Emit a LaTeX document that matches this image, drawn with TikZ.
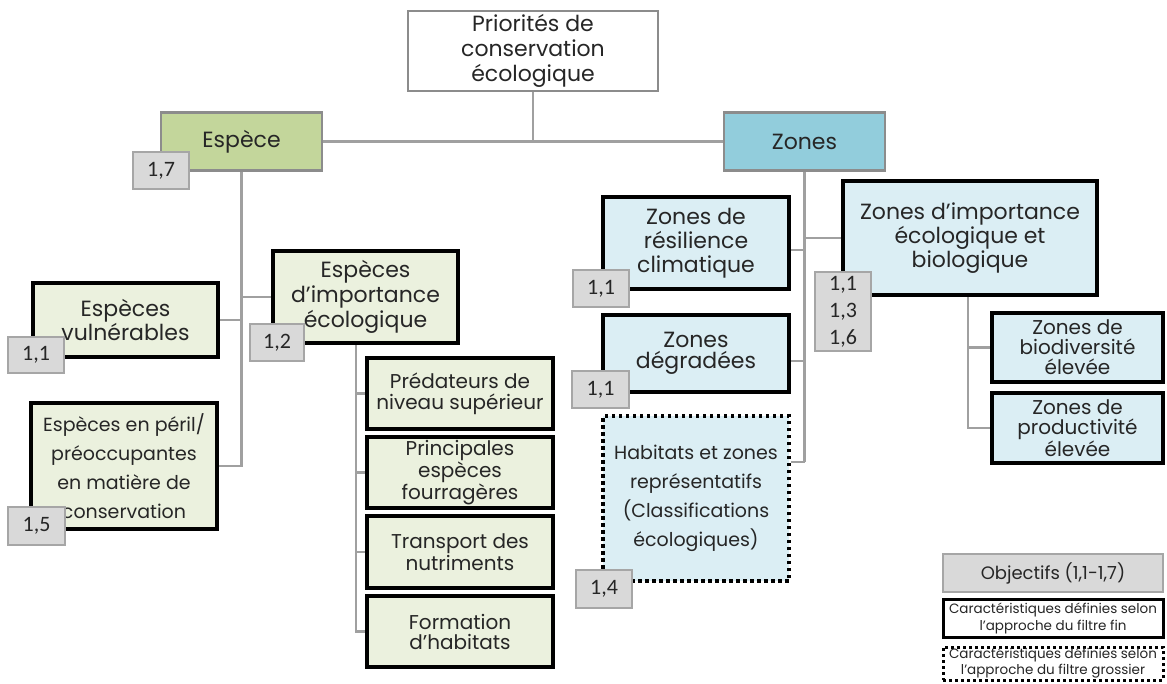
\documentclass[tikz,border=0pt]{standalone}
\usepackage{fontspec}
\setmainfont{Poppins}
\newfontfamily\numfont{Carlito}
\usetikzlibrary{calc}

\definecolor{espfill}{HTML}{C3D69B}
\definecolor{zonfill}{HTML}{92CDDC}
\definecolor{lgreen}{HTML}{EBF1DE}
\definecolor{lblue}{HTML}{DBEEF4}
\definecolor{badgefill}{HTML}{D9D9D9}
\definecolor{badgeline}{HTML}{A6A6A6}
\definecolor{edgegray}{HTML}{8C8C8C}
\definecolor{linkgray}{HTML}{A0A0A0}
\definecolor{txt}{HTML}{262626}

\newcommand{\fs}[2]{\fontsize{#1}{#2}\selectfont}

\tikzset{
  base/.style={align=center, inner sep=0pt, text=txt},
  topbox/.style={base, draw=edgegray, line width=2.5pt},
  finebox/.style={base, draw=black, line width=4pt},
  coarsebox/.style={base, draw=black, line width=3.5pt, dash pattern=on 3.5pt off 3.5pt},
  badge/.style={align=center, inner sep=0pt, draw=badgeline, fill=badgefill,
    line width=2pt, text=black!85, font=\numfont\fs{22}{27}},
  link/.style={draw=linkgray, line width=2.5pt},
}

\begin{document}
\begin{tikzpicture}[x=1pt, y=-1pt]
\useasboundingbox (0,0) rectangle (1167,683);

% ---------- boxes ----------
\node[topbox, fill=white, minimum width=250pt, minimum height=80pt, font=\fs{22}{25}]
  (root) at (533,51) {Priorités de\\conservation\\écologique};
\node[topbox, fill=espfill, minimum width=161pt, minimum height=58pt, font=\fs{22}{25}]
  (esp) at (241.5,141.5) {Espèce};
\node[topbox, fill=zonfill, minimum width=161pt, minimum height=58pt, font=\fs{22}{25}]
  (zon) at (804.5,141.5) {Zones};

% species branch
\node[finebox, fill=lgreen, minimum width=185pt, minimum height=74pt, font=\fs{22}{24}]
  (vuln) at (125.5,320) {Espèces\\vulnérables};
\node[finebox, fill=lgreen, minimum width=185pt, minimum height=92pt, font=\fs{22}{25}]
  (imp) at (365.5,297) {Espèces\\d’importance\\écologique};
\node[finebox, fill=lgreen, minimum width=186pt, minimum height=126pt, font=\fs{19}{29}]
  (peril) at (124,466) {Espèces en péril/\\préoccupantes\\en matière de\\conservation};
\node[finebox, fill=lgreen, minimum width=186pt, minimum height=71pt, font=\fs{20}{21}]
  (pred) at (460,393.5) {Prédateurs de\\niveau supérieur};
\node[finebox, fill=lgreen, minimum width=186pt, minimum height=71pt, font=\fs{20}{20}]
  (four) at (460,472.5) {Principales\\espèces\\fourragères};
\node[finebox, fill=lgreen, minimum width=186pt, minimum height=72pt, font=\fs{20}{20}]
  (nutr) at (460,552) {Transport des\\nutriments};
\node[finebox, fill=lgreen, minimum width=186pt, minimum height=71pt, font=\fs{20}{20}]
  (habf) at (460,631.5) {Formation\\d'habitats};

% zones branch
\node[finebox, fill=lblue, minimum width=186pt, minimum height=92pt, font=\fs{22}{24}]
  (res) at (696,243) {Zones de\\résilience\\climatique};
\node[finebox, fill=lblue, minimum width=186pt, minimum height=77pt, font=\fs{22}{21}]
  (deg) at (696,353.5) {Zones\\dégradées};
\node[coarsebox, fill=lblue, minimum width=186pt, minimum height=165pt, font=\fs{19}{29}]
  (hab) at (696,498.5) {Habitats et zones\\représentatifs\\(Classifications\\écologiques)};
\node[finebox, fill=lblue, minimum width=254pt, minimum height=114pt, font=\fs{22}{24}]
  (zieb) at (970,238) {Zones d'importance\\écologique et\\biologique};
\node[finebox, fill=lblue, minimum width=171pt, minimum height=69pt, font=\fs{20}{20}]
  (biod) at (1077.5,347.5) {Zones de\\biodiversité\\élevée};
\node[finebox, fill=lblue, minimum width=171pt, minimum height=70pt, font=\fs{20}{20}]
  (prod) at (1077.5,428) {Zones de\\productivité\\élevée};

% ---------- connectors ----------
\path[link] (root.south) -- (root.south |- esp.east);
\path[link] (esp.east) -- (zon.west);
\path[link] (esp.south) |- (peril.east);
\path[link] (vuln.east) -- (vuln.east -| esp.south);
\path[link] (imp.west) -- (imp.west -| esp.south);
\coordinate (impdrop) at ([xshift=-9.5pt]imp.south);
\path[link] (impdrop) |- (habf.west);
\path[link] (pred.west) -- (pred.west -| impdrop);
\path[link] (four.west) -- (four.west -| impdrop);
\path[link] (nutr.west) -- (nutr.west -| impdrop);
\coordinate (habjoin) at ([yshift=36.5pt]hab.east);
\path[link] (zon.south) -- (zon.south |- habjoin);
\path[link] (habjoin) -- (habjoin -| zon.south);
\path[link] ([yshift=-7pt]res.east) -- ([yshift=-7pt]res.east -| zon.south);
\path[link] ([yshift=-7.5pt]deg.east) -- ([yshift=-7.5pt]deg.east -| zon.south);
\path[link] (zieb.west) -- (zieb.west -| zon.south);
\coordinate (ziebdrop) at ([xshift=-2pt]zieb.south);
\path[link] (ziebdrop) |- (prod.west);
\path[link] (biod.west) -- (biod.west -| ziebdrop);

% ---------- objective badges ----------
\node[badge, minimum width=56pt, minimum height=37pt] (b17) at (161,170.5) {1,7};
\node[badge, minimum width=56pt, minimum height=36pt] (b11a) at (36,355) {1,1};
\node[badge, minimum width=54pt, minimum height=37pt] (b12) at (277,342.5) {1,2};
\node[badge, minimum width=57pt, minimum height=38pt] (b15) at (36.5,526) {1,5};
\node[badge, minimum width=56pt, minimum height=37pt] (b11b) at (601,288.5) {1,1};
\node[badge, minimum width=57pt, minimum height=37pt] (b11c) at (600.5,389.5) {1,1};
\node[badge, minimum width=56pt, minimum height=38pt] (b14) at (604,589) {1,4};
\node[badge, minimum width=56pt, minimum height=79pt] (b136) at (843,311.5) {1,1\\1,3\\1,6};

% ---------- legend ----------
\node[base, draw=badgeline, fill=badgefill, line width=2pt, minimum width=220pt,
  minimum height=38pt, font=\fs{18}{20}] (legobj) at (1053,573) {Objectifs (1,1-1,7)};
\node[base, draw=black, line width=3pt, fill=white, minimum width=220pt,
  minimum height=38pt, font=\fs{13.5}{17}] (legfine) at (1053,618)
  {Caractéristiques définies selon\\l'approche du filtre fin};
\node[base, draw=black, line width=3pt, dash pattern=on 3pt off 3pt, fill=white,
  minimum width=220pt, minimum height=33pt, font=\fs{13.5}{16}] (legcoarse) at (1053,663.5)
  {Caractéristiques définies selon\\l'approche du filtre grossier};
\end{tikzpicture}
\end{document}
